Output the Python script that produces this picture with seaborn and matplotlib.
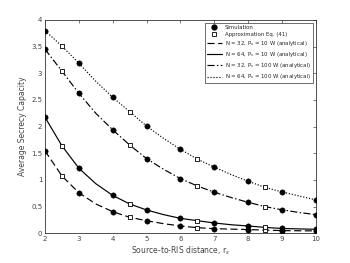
import matplotlib
matplotlib.use('Agg')
import matplotlib.pyplot as plt
import seaborn as sns
import pandas as pd
from matplotlib.lines import Line2D

# ── данные ──
x_ana = [2, 2.5, 3, 3.5, 4, 4.5, 5, 5.5, 6, 6.5, 7, 7.5, 8, 8.5, 9, 9.5, 10]
ana_n32_p10  = [1.545, 1.075, 0.76, 0.55, 0.405, 0.30, 0.236, 0.18, 0.137, 0.105,
                0.087, 0.078, 0.07, 0.06, 0.05, 0.047, 0.045]
ana_n64_p10  = [2.175, 1.64, 1.22, 0.93, 0.71, 0.55, 0.437, 0.35, 0.28, 0.236,
                0.193, 0.16, 0.137, 0.11, 0.09, 0.082, 0.075]
ana_n32_p100 = [3.45, 3.04, 2.625, 2.25, 1.94, 1.655, 1.40, 1.20, 1.025, 0.887,
                0.77, 0.67, 0.58, 0.50, 0.44, 0.39, 0.35]
ana_n64_p100 = [3.80, 3.51, 3.19, 2.85, 2.55, 2.28, 2.01, 1.78, 1.575, 1.39,
                1.24, 1.10, 0.975, 0.86, 0.775, 0.70, 0.625]

x_sim = [2, 3, 4, 5, 6, 7, 8, 9, 10]
sim_n32_p10  = [1.545, 0.76, 0.405, 0.236, 0.137, 0.087, 0.07, 0.05, 0.045]
sim_n64_p10  = [2.175, 1.22, 0.71, 0.437, 0.28, 0.193, 0.137, 0.09, 0.075]
sim_n32_p100 = [3.45, 2.625, 1.94, 1.40, 1.025, 0.77, 0.58, 0.44, 0.35]
sim_n64_p100 = [3.80, 3.19, 2.55, 2.01, 1.575, 1.24, 0.975, 0.775, 0.625]

x_apx = [2.5, 4.5, 6.5, 8.5]
apx_n32_p10  = [1.075, 0.30, 0.105, 0.06]
apx_n64_p10  = [1.64, 0.55, 0.236, 0.11]
apx_n32_p100 = [3.04, 1.655, 0.887, 0.50]
apx_n64_p100 = [3.51, 2.28, 1.39, 0.86]

labels = [
    "N = 32, P$_s$ = 10 W (analytical)",
    "N = 64, P$_s$ = 10 W (analytical)",
    "N = 32, P$_s$ = 100 W (analytical)",
    "N = 64, P$_s$ = 100 W (analytical)",
]
styles = [(0, (6, 3)), "-", (0, (6, 2, 1.2, 2)), (0, (1, 1.5))]

# ── рисунок ──
sns.set_style("white")
plt.rcParams['font.family'] = ['DejaVu Sans']

fig = plt.figure(figsize=(3.5, 2.63), dpi=100)
ax = fig.add_axes([0.1286, 0.113, 0.774, 0.811])

ana = [ana_n32_p10, ana_n64_p10, ana_n32_p100, ana_n64_p100]
sim = [sim_n32_p10, sim_n64_p10, sim_n32_p100, sim_n64_p100]
apx = [apx_n32_p10, apx_n64_p10, apx_n32_p100, apx_n64_p100]

for vals, ls in zip(ana, styles):
    df = pd.DataFrame({"x": x_ana, "y": vals})
    sns.lineplot(data=df, x="x", y="y", ax=ax, color="black",
                 linewidth=0.85, linestyle=ls)

for vals in sim:
    df = pd.DataFrame({"x": x_sim, "y": vals})
    sns.scatterplot(data=df, x="x", y="y", ax=ax, color="black",
                    marker="o", s=15, edgecolor="black", linewidth=0.3, zorder=3)

for vals in apx:
    df = pd.DataFrame({"x": x_apx, "y": vals})
    sns.scatterplot(data=df, x="x", y="y", ax=ax, marker="s", s=7,
                    facecolor="white", edgecolor="black", linewidth=0.6, zorder=3)

ax.set_xlim(2, 10)
ax.set_ylim(0, 4)
ax.set_xticks(range(2, 11))
ax.set_yticks([0, 0.5, 1, 1.5, 2, 2.5, 3, 3.5, 4])
ax.set_yticklabels(["0", "0.5", "1", "1.5", "2", "2.5", "3", "3.5", "4"])
ax.tick_params(direction="in", length=2.5, width=0.5, labelsize=5,
               top=True, right=True, colors="#444444", pad=2)
for sp in ax.spines.values():
    sp.set_linewidth(0.6)
    sp.set_color("#333333")

ax.set_xlabel("Source-to-RIS distance, r$_s$", fontsize=5.5, color="#444444", labelpad=2)
ax.set_ylabel("Average Secrecy Capacity", fontsize=5.5, color="#444444", labelpad=3)

handles = [
    Line2D([], [], color="black", marker="o", linestyle="none", markersize=3.5),
    Line2D([], [], color="black", marker="s", markerfacecolor="white",
           linestyle="none", markersize=2.5, markeredgewidth=0.6),
]
for ls in styles:
    handles.append(Line2D([], [], color="black", linewidth=0.85, linestyle=ls))
leg = ax.legend(handles, ["Simulation", "Approximation Eq. (41)"] + labels,
                loc="upper right", fontsize=3.9, frameon=True, fancybox=False,
                edgecolor="black", handlelength=2.9, borderpad=0.35,
                labelspacing=0.4, handletextpad=0.5, borderaxespad=0.5)
leg.get_frame().set_linewidth(0.5)

fig.savefig("out.png", dpi=100)
